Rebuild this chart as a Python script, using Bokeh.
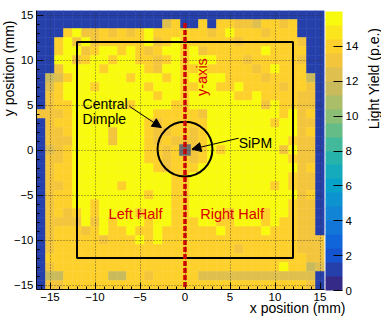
import math
import numpy as np
from bokeh.plotting import figure
from bokeh.layouts import row
from bokeh.models import (LinearColorMapper, ColorBar, FixedTicker, Label, Arrow, Title,
                          NormalHead, Range1d, ColumnDataSource, CustomJSTickFormatter)
from bokeh.core.properties import value
from bokeh.embed import file_html
from bokeh.resources import INLINE

# ---------------- data ----------------
X_CENTERS = list(range(-16, 16))          # 32 columns (mm)
Y_CENTERS = list(range(15, -16, -1))      # 31 rows, top -> bottom (mm)
LEVELS = {"B": 1.0, "k": 11.6, "g": 12.4, "o": 13.2, "y": 14.0, "Y": 15.6}
ROWS = [
    "BBBBBBBBBBBBBBBBBBBBBBBBBBBBBBBB",
    "BBBBBBBBBBBBBBgyBByByyoogyyoyBBB",
    "BBByYooyoyoyYyyyyyyoyYyyyoyyyBBB",
    "BByYoYoyyyyyYoyYyyyyyyoyyyyyyoBB",
    "BByYYoyYYyYyoyYYyYoyyyyyyYyyyyBB",
    "BBYYoyYYyYYyyoyYyYYYyyyoyyyyyoBB",
    "BBoYYYYyYYYYyoYYyyYyyyyyoyYyyyBB",
    "BkgyYYYYYYyYYYyYyYyYYyyyyoyyyykB",
    "BgyYYYyYYYYYyYYYyyYYyyYyyyyoyyoB",
    "BoyYYYYYYYYYYyYYyYYYYYyyYyyyyooB",
    "BoyyYYYYYYyYYYYyyYYYYYYYYoYyyooB",
    "oooyYYYYYYYYYyyyyyoYYYYYYYYyYoyB",
    "BoyyYYYYYYYYyoyyyyyYYYYYYYyYYooB",
    "BooyYYYYoYYYyooyyoyYYYYYYYYYYoyB",
    "BoooYYYYoYYYyoyoooyYYYYYYYYYyooB",
    "BgoyYYYYYYYYyyoyyoyYyYYYYYYoYooB",
    "BooyYYYYYYYYyyoyyoyYYYYYYYYYyooB",
    "BoyyYYYYYYYYYyoyyyYYYYYYYYYYYoyB",
    "BoyyYYYYYYYYYYYyyYYYYYYYYYYYyooB",
    "BooyYYYYYyYYYYYyyYYYYYYYYYyYyooB",
    "BoyyYYYYYYYYyYYyyYYYYYYYYYYYYoyB",
    "BoyyYYyYYYYYYYYyyYYYYYYYYYYYyooB",
    "BoyoyYyYYYYyYYYyyYYYYyYYYyYYyooB",
    "BooooYoYyYYYyYYyyyYYyyYYYyYyyooB",
    "BoyyyoyYyyYyyYyyyyyyYyyyyYyyyooB",
    "BoyyyyyoyyyYyYyyyyyyyyyyyyyyyooo",
    "Boyyyyyyyyyyyyyyyyyyyyoyyyyyyooo",
    "Byyyyyyyyyyyyyyyyyyyyyyyyyyyyyoo",
    "BoyyyyyyyyyyyyyyyyyyyyyyyyyYyykg",
    "BkkyyyyykkyyoyyyyygggggggggggggB",
    "BooyyyyyyyyyyyyyyyyyyyyyyyyyyyoB",
]
Z_LOW, Z_HIGH, N_CONTOURS = 0.0, 16.0, 20
CB_TICKS = [0, 2, 4, 6, 8, 10, 12, 14]
X_TICKS = [-15, -10, -5, 0, 5, 10, 15]
Y_TICKS = [-15, -10, -5, 0, 5, 10, 15]
X_MINOR = list(range(-16, 16))
Y_MINOR = list(range(-15, 16))

# ---------------- palette (ROOT kBird) ----------------
_ST = [0.0, 0.125, 0.25, 0.375, 0.5, 0.625, 0.75, 0.875, 1.0]
_R = [0.2082, 0.0592, 0.0780, 0.0232, 0.1802, 0.5301, 0.8186, 0.9956, 0.9764]
_G = [0.1664, 0.3599, 0.5041, 0.6419, 0.7178, 0.7492, 0.7328, 0.7862, 0.9832]
_B = [0.5293, 0.8684, 0.8385, 0.7914, 0.6425, 0.4662, 0.3499, 0.1968, 0.0539]


def kbird(f):
    r = np.interp(f, _ST, _R); g = np.interp(f, _ST, _G); b = np.interp(f, _ST, _B)
    return "#%02x%02x%02x" % (int(round(r * 255)), int(round(g * 255)), int(round(b * 255)))


PALETTE = [kbird(i / (N_CONTOURS - 1)) for i in range(N_CONTOURS)]

xs, ys, vs = [], [], []
for r, rw in enumerate(ROWS):
    rw = (rw + "y" * 32)[:32]
    for c, ch in enumerate(rw):
        xs.append(X_CENTERS[c]); ys.append(Y_CENTERS[r]); vs.append(LEVELS.get(ch, 14.0))
src = ColumnDataSource(dict(x=xs, y=ys, v=vs))

FONT = "Liberation Sans"
p = figure(frame_width=288, frame_height=279, x_range=Range1d(-16.5, 15.5),
           y_range=Range1d(-15.5, 15.5), output_backend="svg", toolbar_location=None,
           min_border_left=36, min_border_right=37, min_border_top=10, min_border_bottom=34)
p.outline_line_color = None
p.background_fill_color = "white"

mapper = LinearColorMapper(palette=PALETTE, low=Z_LOW, high=Z_HIGH)
cm = {"field": "v", "transform": mapper}
p.rect(x="x", y="y", width=1, height=1, source=src, fill_color=cm, line_color=cm, line_width=0.5)

for g in (p.xgrid, p.ygrid):
    g.level = "overlay"
    g.grid_line_color = "#333333"
    g.grid_line_alpha = 0.75
    g.grid_line_dash = "1 2"
    g.grid_line_width = 1
p.xgrid.ticker = FixedTicker(ticks=X_TICKS)
p.ygrid.ticker = FixedTicker(ticks=Y_TICKS)

fmt = CustomJSTickFormatter(code="return tick < 0 ? '\\u2212' + (-tick) : String(tick);")
for ax, ticks, minor in ((p.xaxis[0], X_TICKS, X_MINOR), (p.yaxis[0], Y_TICKS, Y_MINOR)):
    ax.ticker = FixedTicker(ticks=ticks, minor_ticks=minor)
    ax.formatter = fmt
    ax.major_tick_in = 7; ax.major_tick_out = 0
    ax.minor_tick_in = 3; ax.minor_tick_out = 0
    ax.major_tick_line_color = "black"; ax.minor_tick_line_color = "black"
    ax.axis_line_color = "black"
    ax.major_label_text_font = FONT
    ax.major_label_text_font_size = "11.5px"
    ax.major_label_text_color = "black"
    ax.major_label_standoff = 3

# axis titles as panel titles (not clipped)
p.add_layout(Title(text="y position (mm)", align="right", offset=10, vertical_align="bottom",
                   standoff=-13, text_font=FONT, text_font_size="14px", text_font_style="normal",
                   text_color="black"), "left")
p.add_layout(Title(text="x position (mm)", align="right", offset=-21, vertical_align="top",
                   standoff=-7, text_font=FONT, text_font_size="14px", text_font_style="normal",
                   text_color="black"), "below")

p.quad(left=[-12], right=[12], bottom=[-12], top=[12], fill_color=None, line_color="black", line_width=2)
p.circle(x=[0], y=[0.1], radius=3.05, fill_color=None, line_color="black", line_width=2)
p.rect(x=[0], y=[0], width=1.3, height=1.3, fill_color="#6e6e6e", line_color=None)

RED = "#d80000"
p.add_layout(Arrow(end=None, x_start=0, y_start=14.1, x_end=0, y_end=-15.5,
                   line_color=RED, line_width=3.5, line_dash="5 2"))
p.add_layout(Arrow(end=NormalHead(size=9, fill_color="black", line_color="black"),
                   x_start=-6.16, y_start=4.84, x_end=-2.63, y_end=2.5, line_width=1, line_color="black"))
p.add_layout(Arrow(end=NormalHead(size=9, fill_color="black", line_color="black"),
                   x_start=5.96, y_start=1.31, x_end=0.77, y_end=0.09, line_width=1, line_color="black"))


def lab(x, y, text, color="black", size="14px", align="left", angle=0.0):
    p.add_layout(Label(x=x, y=y, text=text, text_color=color, text_font=FONT, text_font_size=size,
                       text_align=align, text_baseline="alphabetic", angle=angle))


lab(-11.38, 5.07, "Central")
lab(-11.38, 3.45, "Dimple")
lab(5.96, 0.76, "SiPM")
lab(-8.49, -7.1, "Left Half", RED, "14.5px")
lab(1.7, -7.1, "Right Half", RED, "14.5px")
lab(1.85, 6.0, "y-axis", RED, "14.5px", angle=math.pi / 2)

cb = ColorBar(color_mapper=mapper, ticker=FixedTicker(ticks=CB_TICKS, minor_ticks=[]),
              width=17, height=279, location="top_left", margin=0, padding=1,
              label_standoff=3, major_tick_in=9, major_tick_out=0, major_tick_line_color="black",
              minor_tick_line_color=None, bar_line_color=None, border_line_color=None,
              background_fill_color=None,
              major_label_text_font=FONT, major_label_text_font_size="11.5px",
              major_label_text_color="black")
p.add_layout(cb, "right")

# narrow companion figure carrying the colour-bar title
pz = figure(width=20, height=323, x_range=Range1d(0, 20), y_range=Range1d(0, 323),
            output_backend="svg", toolbar_location=None, min_border=0)
pz.axis.visible = False
pz.grid.visible = False
pz.outline_line_color = None
pz.text(x=[11], y=[303], text=["Light Yield (p.e.)"], angle=math.pi / 2, text_align="right",
        text_baseline="alphabetic", text_font=value(FONT), text_font_size="14px", text_color="black")

layout = row(p, pz)
open("out.html", "w").write(file_html(layout, INLINE))
